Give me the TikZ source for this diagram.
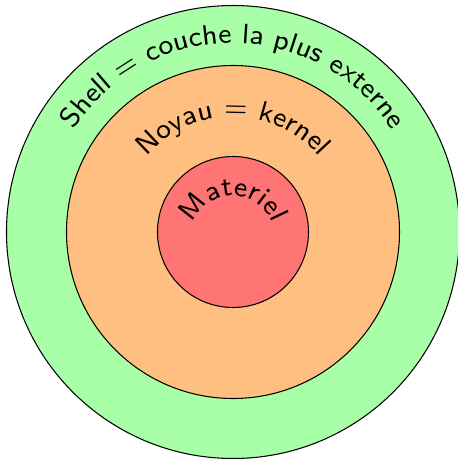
\documentclass[tikz,border=0pt]{standalone}
\usetikzlibrary{decorations.text}
\renewcommand{\familydefault}{\sfdefault}
\definecolor{shellc}{RGB}{168,255,168}
\definecolor{kernc}{RGB}{255,191,128}
\definecolor{hwc}{RGB}{255,117,117}
\tikzset{
  ring/.style={draw=black, line width=0.3pt},
  arctext/.style={decorate, decoration={text along path, text align=center, text={#1}}}
}
\begin{document}
\begin{tikzpicture}[x=0.285pt,y=0.285pt]
\useasboundingbox (0,0) rectangle (458,459);
\coordinate (c) at (233,227);
\coordinate (cm) at (233,221);
\fill[shellc] (c) circle (226.5);
\draw[ring] (c) circle (226.5);
\fill[kernc] (c) circle (166.5);
\draw[ring] (c) circle (166.5);
\fill[hwc] (c) circle (75.5);
\draw[ring] (c) circle (75.5);
\path[arctext={|\fontsize{8}{9.6}\selectfont|Shell = couche la plus externe}] ([xshift=-189*0.285pt]c) arc (180:0:189);
\path[arctext={|\fontsize{8}{9.6}\selectfont|Noyau = kernel}] ([xshift=-115*0.285pt]c) arc (180:0:115);
\path[arctext={|\fontsize{8}{9.6}\selectfont|Materiel}] ([xshift=-42*0.285pt]cm) arc (180:0:42);
\end{tikzpicture}
\end{document}
